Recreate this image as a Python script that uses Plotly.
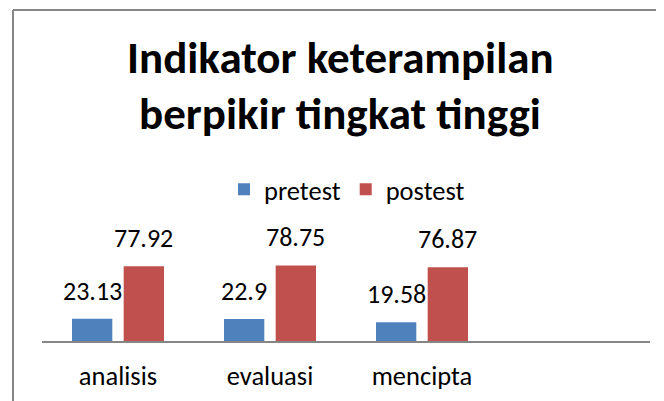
import plotly.graph_objects as go

categories = ["analisis", "evaluasi", "mencipta"]
pretest = [23.13, 22.9, 19.58]
postest = [77.92, 78.75, 76.87]
series_names = ["pretest", "postest"]
title_lines = ["Indikator keterampilan", "berpikir tingkat tinggi"]

BLUE = "#4F81BD"
RED = "#C0504D"
FONT = "Carlito, Lato, sans-serif"

# figure geometry (the page body adds an 8px offset)
W, H = 656, 393
L, R, T, B = 34, 14, 237, 60
PH = H - T - B  # plot height in px


def py(px_y):
    """figure pixel y -> paper y"""
    return (H - B - px_y) / PH


def pxx(px_x):
    return (px_x - L) / (W - L - R)


fig = go.Figure()
fig.add_bar(x=categories, y=pretest, name=series_names[0], marker=dict(color=BLUE, line=dict(width=0)))
fig.add_bar(x=categories, y=postest, name=series_names[1], marker=dict(color=RED, line=dict(width=0)))

annotations = []
for series, shift in ((pretest, -25.8), (postest, 25.8)):
    for c, v in zip(categories, series):
        annotations.append(dict(
            x=c, y=v, xref="x", yref="y", text=f"{v:g}", showarrow=False,
            xshift=shift, yshift=28, yanchor="middle",
            font=dict(family=FONT, size=26, color="#000000"),
        ))

for line, yc in zip(title_lines, (49, 105)):
    annotations.append(dict(
        x=pxx(332), y=py(yc), xref="paper", yref="paper", text=f"<b>{line}</b>",
        showarrow=False, xanchor="center", yanchor="middle",
        font=dict(family=FONT, size=45, color="#000000"),
    ))

fig.update_layout(
    width=W, height=H,
    margin=dict(l=L, r=R, t=T, b=B, pad=0, autoexpand=False),
    paper_bgcolor="white", plot_bgcolor="white",
    barmode="group", bargap=0.32, bargroupgap=0.22,
    font=dict(family=FONT, size=26, color="#000000"),
    legend=dict(
        orientation="h", xref="container", yref="container",
        x=216 / W, xanchor="left", y=1 - 181.5 / H, yanchor="middle",
        font=dict(family=FONT, size=26.5, color="#000000"),
        bgcolor="rgba(0,0,0,0)", itemclick=False, itemdoubleclick=False,
    ),
    xaxis=dict(
        type="category", range=[-0.5, 3.5], showgrid=False, zeroline=False,
        showline=True, linecolor="#868686", linewidth=2, ticks="",
        ticklabelstandoff=10, automargin=False,
        tickfont=dict(family=FONT, size=26.5, color="#000000"),
    ),
    yaxis=dict(range=[0, 100], visible=False, showgrid=False, zeroline=False, automargin=False),
    annotations=annotations,
    showlegend=True,
)

# chart border (top and left edges visible in the cropped picture)
fig.add_shape(type="line", xref="paper", yref="paper",
              x0=pxx(5), x1=pxx(W + 20), y0=py(2), y1=py(2),
              line=dict(color="#868686", width=2))
fig.add_shape(type="line", xref="paper", yref="paper",
              x0=pxx(5), x1=pxx(5), y0=py(H + 20), y1=py(2),
              line=dict(color="#868686", width=2))

fig.write_html("out.html")
